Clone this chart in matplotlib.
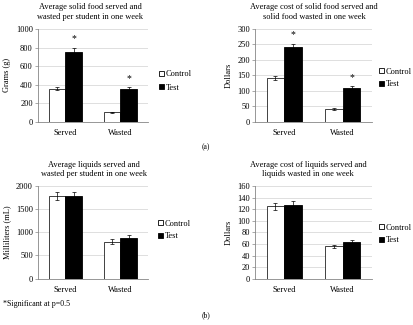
import matplotlib
matplotlib.use("Agg")
import matplotlib.pyplot as plt
from matplotlib.patches import Patch

plt.rcParams['font.family'] = ['Liberation Serif', 'DejaVu Serif']

categories = ["Served", "Wasted"]
series = ["Control", "Test"]

titles = ["Average solid food served and\nwasted per student in one week",
          "Average cost of solid food served and\nsolid food wasted in one week",
          "Average liquids served and\nwasted per student in one week",
          "Average cost of liquids served and\nliquids wasted in one week"]
ylabels = ["Grams (g)", "Dollars", "Milliliters (mL)", "Dollars"]

solid_grams_control = [358, 101]
solid_grams_test = [755, 350]
solid_grams_control_err = [12, 4]
solid_grams_test_err = [43, 20]

solid_cost_control = [142, 41]
solid_cost_test = [241, 108]
solid_cost_control_err = [7, 2]
solid_cost_test_err = [12, 7]

liquid_ml_control = [1770, 796]
liquid_ml_test = [1770, 885]
liquid_ml_control_err = [85, 50]
liquid_ml_test_err = [85, 50]

liquid_cost_control = [125, 56]
liquid_cost_test = [127, 64]
liquid_cost_control_err = [6, 3]
liquid_cost_test_err = [7, 3.5]

ylims = [1000, 300, 2000, 160]
ysteps = [200, 50, 500, 20]
significant = [[True, True], [True, True], [False, False], [False, False]]

data = [
    (solid_grams_control, solid_grams_test, solid_grams_control_err, solid_grams_test_err),
    (solid_cost_control, solid_cost_test, solid_cost_control_err, solid_cost_test_err),
    (liquid_ml_control, liquid_ml_test, liquid_ml_control_err, liquid_ml_test_err),
    (liquid_cost_control, liquid_cost_test, liquid_cost_control_err, liquid_cost_test_err),
]

W, H = 413, 325
fig = plt.figure(figsize=(W / 100, H / 100), dpi=100)

# axes boxes in pixels: left, right, top, bottom
boxes = [(37.7, 148, 29, 121.7), (255, 372, 29, 121.7),
         (37.7, 148, 185.7, 278.7), (255, 372, 186, 278.7)]
legend_pos = [(159, 81), (379, 78), (158, 230), (379, 234)]
title_x = [90, 314, 94, 308]
ylabel_x = [7, 229, 7, 229]

FS = 6.0
bw = 0.3
for i, ((c, t, ce, te), box) in enumerate(zip(data, boxes)):
    l, r, tp, b = box
    ax = fig.add_axes([l / W, 1 - b / H, (r - l) / W, (b - tp) / H])
    x = list(range(len(categories)))
    xc = [v - bw / 2 for v in x]
    xt = [v + bw / 2 for v in x]
    ax.bar(xc, c, bw, color='white', edgecolor='#222222', linewidth=0.6, zorder=3,
           label=series[0])
    ax.bar(xt, t, bw, color='black', edgecolor='black', linewidth=0.6, zorder=3,
           label=series[1])
    ax.errorbar(xc, c, yerr=ce, fmt='none', ecolor='black', elinewidth=0.5,
                capsize=1.5, capthick=0.5, zorder=4)
    ax.errorbar(xt, t, yerr=te, fmt='none', ecolor='black', elinewidth=0.5,
                capsize=1.5, capthick=0.5, zorder=4)
    for j in range(len(categories)):
        if significant[i][j]:
            ax.annotate('*', (xt[j], t[j] + te[j]), xytext=(0, 3),
                        textcoords='offset points', ha='center', va='bottom',
                        fontsize=FS + 1)
    ax.set_xlim(-0.5, 1.5)
    ax.set_ylim(0, ylims[i])
    ax.set_yticks(list(range(0, ylims[i] + 1, ysteps[i])))
    ax.set_xticks(x)
    ax.set_xticklabels(categories, fontsize=FS)
    ax.tick_params(axis='y', labelsize=FS, length=2, width=0.5, color='#868686', pad=1.5)
    ax.tick_params(axis='x', length=0, pad=5)
    ax.grid(axis='y', color='#d9d9d9', linewidth=0.6, zorder=0)
    ax.set_axisbelow(True)
    for s in ['top', 'right']:
        ax.spines[s].set_visible(False)
    for s in ['left', 'bottom']:
        ax.spines[s].set_color('#868686')
        ax.spines[s].set_linewidth(0.6)
    ymid = (tp + b) / 2
    fig.text(ylabel_x[i] / W, 1 - ymid / H, ylabels[i], rotation=90, ha='center',
             va='center', fontsize=FS)
    fig.text(title_x[i] / W, 1 - 12 / H if i < 2 else 1 - 169.5 / H, titles[i],
             ha='center', va='center', fontsize=FS, linespacing=1.3)
    handles = [Patch(facecolor='white', edgecolor='black', linewidth=0.6),
               Patch(facecolor='black', edgecolor='black', linewidth=0.6)]
    lx, ly = legend_pos[i]
    fig.legend(handles, series, loc='center left',
               bbox_to_anchor=(lx / W, 1 - ly / H), frameon=False, fontsize=FS,
               handlelength=0.6, handleheight=0.6, handletextpad=0.2,
               labelspacing=0.6, borderpad=0, borderaxespad=0)

fig.text(206 / W, 1 - 147 / H, '(a)', ha='center', va='center', fontsize=FS - 0.5)
fig.text(206 / W, 1 - 315 / H, '(b)', ha='center', va='center', fontsize=FS - 0.5)
fig.text(3 / W, 1 - 304 / H, '*Significant at p=0.5', ha='left', va='center',
         fontsize=FS - 0.3)

fig.savefig('out.png', dpi=100)
